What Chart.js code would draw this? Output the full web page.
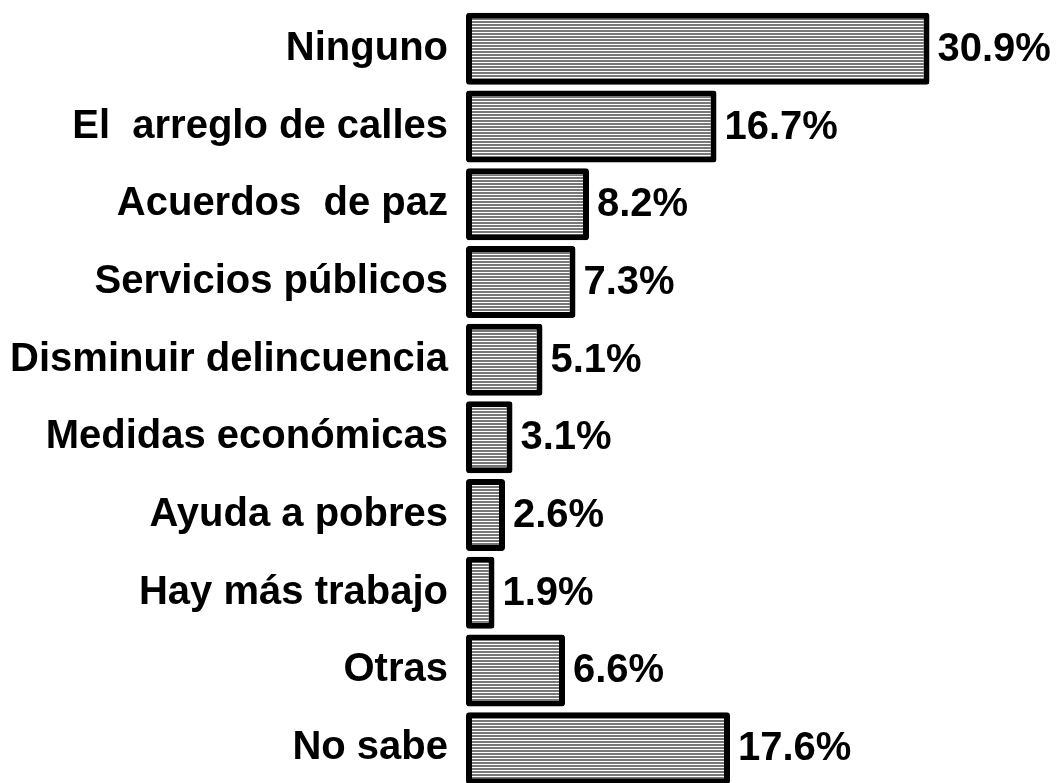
<!DOCTYPE html>
<html>
<head>
<meta charset="utf-8">
<script src="https://cdn.jsdelivr.net/npm/chart.js@4.4.0/dist/chart.umd.min.js"></script>
<style>
  html, body { margin: 0; padding: 0; background: #fff; overflow: hidden; }
  #wrap { width: 1059px; height: 783px; overflow: hidden; }
</style>
</head>
<body>
<div id="wrap"><canvas id="myChart" width="1059" height="787"></canvas></div>
<script>
// data
const categories = [
  "Ninguno",
  "El  arreglo de calles",
  "Acuerdos  de paz",
  "Servicios públicos",
  "Disminuir delincuencia",
  "Medidas económicas",
  "Ayuda a pobres",
  "Hay más trabajo",
  "Otras",
  "No sabe"
];
const percentages = [30.9, 16.7, 8.2, 7.3, 5.1, 3.1, 2.6, 1.9, 6.6, 17.6];

const FONT = "bold 40px 'Liberation Sans', Arial, sans-serif";

// striped gray fill like the scanned original
function stripes() {
  const c = document.createElement("canvas");
  c.width = 8; c.height = 6;
  const g = c.getContext("2d");
  g.fillStyle = "#ffffff";
  g.fillRect(0, 0, 8, 6);
  g.fillStyle = "#777777";
  g.fillRect(0, 0, 8, 2);
  g.fillRect(0, 3, 8, 2);
  return g.createPattern(c, "repeat");
}

const valueLabels = {
  id: "valueLabels",
  afterDatasetsDraw(chart) {
    const ctx = chart.ctx;
    const meta = chart.getDatasetMeta(0);
    ctx.save();
    ctx.font = FONT;
    ctx.fillStyle = "#000";
    ctx.textAlign = "left";
    ctx.textBaseline = "middle";
    meta.data.forEach((bar, i) => {
      ctx.fillText(percentages[i].toFixed(1) + "%", bar.x + 8, bar.y + 1);
    });
    ctx.restore();
  }
};

const ctx = document.getElementById("myChart").getContext("2d");
new Chart(ctx, {
  type: "bar",
  data: {
    labels: categories,
    datasets: [{
      data: percentages,
      backgroundColor: stripes(),
      borderColor: "#000",
      borderWidth: 6,
      borderRadius: 3,
      borderSkipped: false,
      categoryPercentage: 1,
      barPercentage: 0.927
    }]
  },
  options: {
    indexAxis: "y",
    responsive: false,
    animation: false,
    layout: { autoPadding: false, padding: { top: 10, right: 8, left: 0, bottom: 0 } },
    plugins: {
      legend: { display: false },
      tooltip: { enabled: false }
    },
    scales: {
      x: {
        display: false,
        min: 0,
        max: 39
      },
      y: {
        grid: { display: false },
        border: { display: false },
        afterFit: scale => {
          scale.width = 466;
          scale.paddingTop = 0;
          scale.paddingBottom = 0;
        },
        ticks: {
          color: "#000",
          padding: 10,
          font: { family: "'Liberation Sans', Arial, sans-serif", size: 40, weight: "bold" }
        }
      }
    }
  },
  plugins: [valueLabels]
});
</script>
</body>
</html>
